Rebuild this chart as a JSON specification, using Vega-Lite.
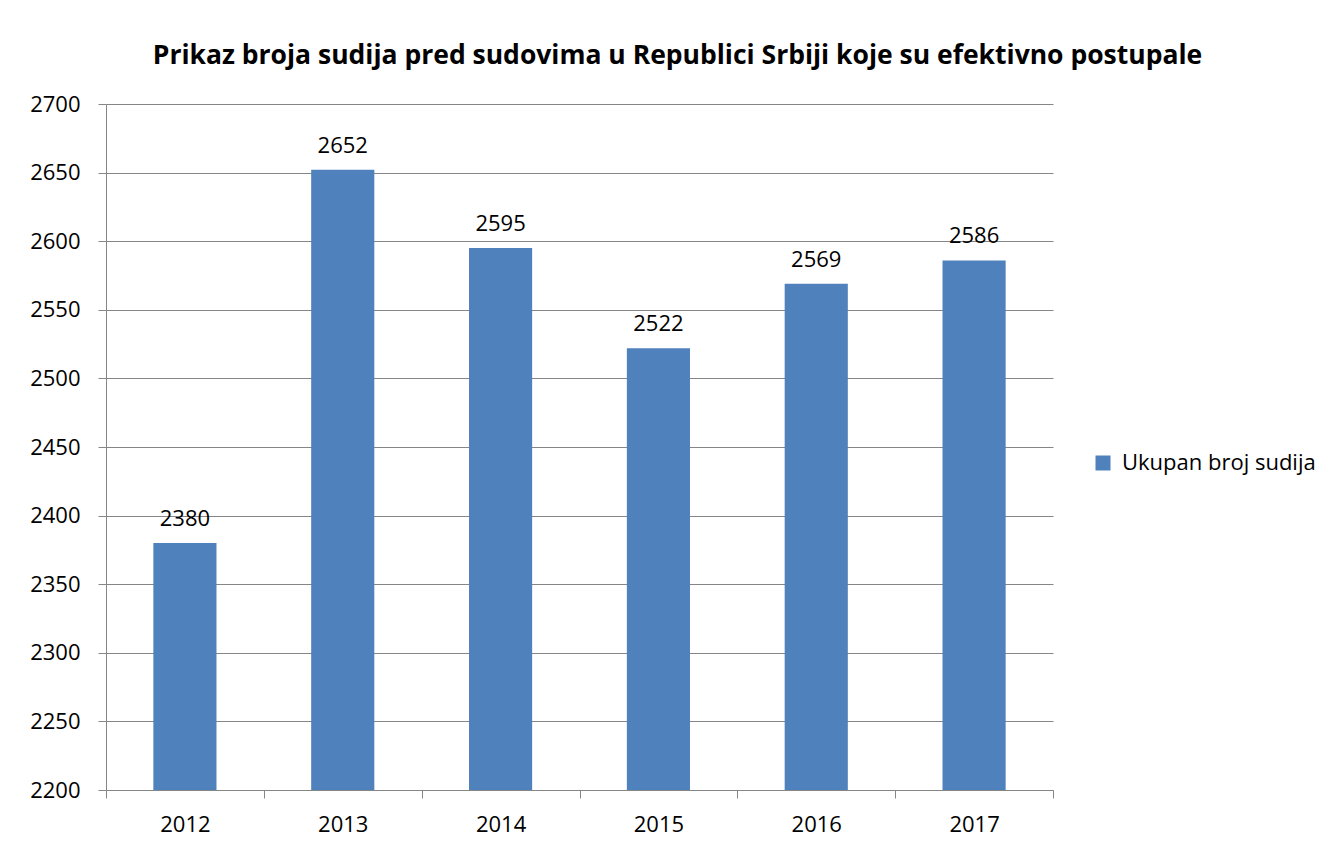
{
  "$schema": "https://vega.github.io/schema/vega-lite/v6.json",
  "autosize": {"type": "none"},
  "width": 947,
  "height": 686,
  "padding": {"left": 106, "top": 104, "right": 282, "bottom": 60},
  "background": "white",
  "title": {
    "text": "Prikaz broja sudija pred sudovima u Republici Srbiji koje su efektivno postupale",
    "font": "Open Sans",
    "fontSize": 26.5,
    "fontWeight": "bold",
    "color": "black",
    "anchor": "middle",
    "frame": "group",
    "dx": 98,
    "offset": 24
  },
  "config": {
    "view": {"stroke": null},
    "font": "Open Sans"
  },
  "data": {
    "values": [
      {"year": "2012", "value": 2380, "series": "Ukupan broj sudija"},
      {"year": "2013", "value": 2652, "series": "Ukupan broj sudija"},
      {"year": "2014", "value": 2595, "series": "Ukupan broj sudija"},
      {"year": "2015", "value": 2522, "series": "Ukupan broj sudija"},
      {"year": "2016", "value": 2569, "series": "Ukupan broj sudija"},
      {"year": "2017", "value": 2586, "series": "Ukupan broj sudija"}
    ]
  },
  "encoding": {
    "x": {
      "field": "year",
      "type": "ordinal",
      "scale": {"paddingInner": 0, "paddingOuter": 0},
      "axis": {
        "title": null,
        "labelAngle": 0,
        "labelFont": "Open Sans",
        "labelFontSize": 22,
        "labelColor": "black",
        "labelPadding": 16,
        "tickBand": "extent",
        "tickSize": 8,
        "tickColor": "#868686",
        "domainColor": "#868686",
        "grid": false
      }
    },
    "y": {
      "field": "value",
      "type": "quantitative",
      "scale": {"domain": [2200, 2700], "zero": false, "nice": false},
      "axis": {
        "title": null,
        "values": [2200, 2250, 2300, 2350, 2400, 2450, 2500, 2550, 2600, 2650, 2700],
        "labelFont": "Open Sans",
        "labelFontSize": 22,
        "labelColor": "black",
        "labelPadding": 18,
        "tickSize": 8,
        "tickColor": "#868686",
        "domainColor": "#868686",
        "grid": true,
        "gridColor": "#868686",
        "format": "d"
      }
    }
  },
  "layer": [
    {
      "mark": {"type": "bar", "width": {"band": 0.4}, "clip": true},
      "encoding": {
        "color": {
          "field": "series",
          "type": "nominal",
          "scale": {"range": ["#4F81BD"]},
          "legend": {
            "title": null,
            "orient": "none",
            "legendX": 986,
            "legendY": 348,
            "symbolType": "square",
            "symbolSize": 225,
            "symbolStrokeWidth": 0,
            "labelFont": "Open Sans",
            "labelFontSize": 22,
            "labelColor": "black",
            "labelOffset": 8,
            "labelLimit": 400
          }
        }
      }
    },
    {
      "mark": {
        "type": "text",
        "baseline": "alphabetic",
        "dy": -17,
        "font": "Open Sans",
        "fontSize": 22,
        "color": "black"
      },
      "encoding": {
        "text": {"field": "value", "type": "quantitative", "format": "d"}
      }
    }
  ]
}
